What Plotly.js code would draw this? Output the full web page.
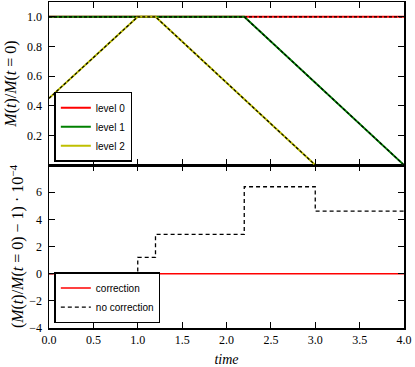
<!DOCTYPE html>
<html>
<head>
<meta charset="utf-8">
<script src="https://cdn.plot.ly/plotly-3.0.1.min.js"></script>
<style>
  html, body { margin: 0; padding: 0; background: white; }
  #plot { width: 415px; height: 367px; }
</style>
</head>
<body>
<div id="plot"></div>
<script>
/* Level populations (top) and relative deviation (bottom) */

const tLevel0 = [0, 4];
const level0 = [1, 1];
const tLevel1 = [0, 2.2, 4];
const level1 = [1, 1, 0];
const tLevel2 = [0, 1.0, 1.2, 3.0];
const level2 = [0.45, 1, 1, 0];

const tCorr = [0, 4];
const correction = [0, 0];
const tNoCorr = [0, 1.0, 1.2, 2.2, 3.0, 4.0];
const noCorrection = [0, 1.2, 2.9, 6.4, 4.6, 4.6];

const xTicks = [0, 0.5, 1, 1.5, 2, 2.5, 3, 3.5, 4];
const xTickText = ['0.0', '0.5', '1.0', '1.5', '2.0', '2.5', '3.0', '3.5', '4.0'];
const topTicks = [0.2, 0.4, 0.6, 0.8, 1.0];
const topTickText = ['0.2', '0.4', '0.6', '0.8', '1.0'];
const bottomTicks = [-4, -2, 0, 2, 4, 6];
const bottomTickText = ['\u22124', '\u22122', '0', '2', '4', '6'];

const serif = 'Liberation Serif, DejaVu Serif, serif';
const sans = 'Liberation Sans, Arial, sans-serif';

function levelTrace(x, y, name, color) {
  return {
    x: x, y: y, name: name,
    xaxis: 'x2', yaxis: 'y2',
    mode: 'lines',
    line: { color: color, width: 2 },
    legend: 'legend',
  };
}
function dashTrace(x, y) {
  return {
    x: x, y: y,
    xaxis: 'x2', yaxis: 'y2',
    mode: 'lines',
    line: { color: 'black', width: 1.2, dash: '3px,2px' },
    showlegend: false,
  };
}

const data = [
  levelTrace(tLevel0, level0, 'level 0', '#ff0000'),
  dashTrace(tLevel0, level0),
  levelTrace(tLevel1, level1, 'level 1', '#008000'),
  dashTrace(tLevel1, level1),
  levelTrace(tLevel2, level2, 'level 2', '#bfbf00'),
  dashTrace(tLevel2, level2),
  {
    x: tCorr, y: correction, name: 'correction',
    mode: 'lines',
    line: { color: '#ff0000', width: 1.5 },
    legend: 'legend2',
  },
  {
    x: tNoCorr, y: noCorrection, name: 'no correction',
    mode: 'lines',
    line: { color: 'black', width: 1.3, dash: '4px,3px', shape: 'hv' },
    legend: 'legend2',
  },
];

const axisCommon = {
  showline: true,
  linecolor: 'black',
  linewidth: 1.5,
  mirror: 'allticks',
  ticks: 'inside',
  ticklen: 6,
  tickwidth: 1,
  tickcolor: 'black',
  showgrid: false,
  zeroline: false,
  automargin: false,
  tickfont: { family: serif, size: 12, color: 'black' },
};

const layout = {
  width: 415,
  height: 367,
  margin: { l: 49, r: 11, t: 2, b: 39 },
  paper_bgcolor: 'white',
  plot_bgcolor: 'white',
  showlegend: true,
  xaxis: Object.assign({}, axisCommon, {
    range: [0, 4],
    tickvals: xTicks,
    ticktext: xTickText,
    anchor: 'y',
    title: { text: '<i>time</i>', font: { family: serif, size: 14, color: 'black' }, standoff: 10 },
  }),
  yaxis: Object.assign({}, axisCommon, {
    domain: [0, 0.5],
    range: [-4, 8],
    tickvals: bottomTicks,
    ticktext: bottomTickText,
    ticklabelstandoff: 3,
    anchor: 'x',
    title: {
      text: '(<i>M</i>(<i>t</i>)/<i>M</i>(<i>t</i> = 0) \u2212 1) \u00b7 10<sup>\u22124</sup>',
      font: { family: serif, size: 16, color: 'black' },
      standoff: 1,
    },
  }),
  xaxis2: Object.assign({}, axisCommon, {
    range: [0, 4],
    tickvals: xTicks,
    showticklabels: false,
    anchor: 'y2',
    matches: 'x',
  }),
  yaxis2: Object.assign({}, axisCommon, {
    domain: [0.5, 1],
    range: [0, 1.1],
    tickvals: topTicks,
    ticktext: topTickText,
    ticklabelstandoff: 3,
    anchor: 'x2',
    title: {
      text: '<i>M</i>(<i>t</i>)/<i>M</i>(<i>t</i> = 0)',
      font: { family: serif, size: 16, color: 'black' },
      standoff: 6,
    },
  }),
  legend: {
    x: 0.015, y: 0.51, xanchor: 'left', yanchor: 'bottom',
    bgcolor: 'white', bordercolor: 'black', borderwidth: 1.5,
    font: { family: sans, size: 10, color: 'black' },
    itemwidth: 30,
    tracegroupgap: 0,
  },
  legend2: {
    x: 0.015, y: 0.015, xanchor: 'left', yanchor: 'bottom',
    bgcolor: 'white', bordercolor: 'black', borderwidth: 1.5,
    font: { family: sans, size: 10, color: 'black' },
    itemwidth: 30,
    tracegroupgap: 0,
  },
};

Plotly.newPlot('plot', data, layout, { displayModeBar: false, staticPlot: true });
</script>
</body>
</html>
